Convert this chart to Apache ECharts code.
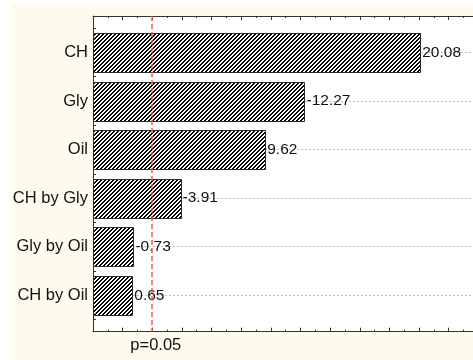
<!DOCTYPE html>
<html><head><meta charset="utf-8">
<script src="https://cdn.jsdelivr.net/npm/echarts@6/dist/echarts.min.js"></script>
<style>
html,body{margin:0;padding:0;background:#fff;width:473px;height:360px;overflow:hidden}
#chart{position:absolute;left:12px;top:4px;width:461px;height:356px}
</style>
</head><body><div id="chart"></div>
<script>
// Pareto chart of standardized effects
const terms = ['CH', 'Gly', 'Oil', 'CH by Gly', 'Gly by Oil', 'CH by Oil'];
const effects = [20.08, -12.27, 9.62, -3.91, -0.73, 0.65];
const pCritical = 1.97;
const pLabel = 'p=0.05';

const X_MIN = -2, X_MAX = 24;
const FONT = '"Liberation Sans", Arial, Helvetica, sans-serif';

// pixel diagonal hatch tile used as bar fill
function hatchTile() {
  const c = document.createElement('canvas');
  c.width = 4; c.height = 4;
  const g = c.getContext('2d');
  g.fillStyle = '#fff'; g.fillRect(0, 0, 4, 4);
  g.fillStyle = '#000';
  for (let y = 0; y < 4; y++) {
    for (let x = 0; x < 4; x++) {
      const m = (x + y) % 4;
      if (m === 0 || m === 1) g.fillRect(x, y, 1, 1);
    }
  }
  return c;
}
const tile = hatchTile();

const barData = effects.map((v, i) => [Math.abs(v), i, v]);
const catIdx = terms.map((t, i) => i);
const halfTicks = [];
for (let k = -0.5; k <= terms.length - 0.5; k += 0.5) halfTicks.push(k);

const xAxisBase = {
  type: 'value', min: X_MIN, max: X_MAX, interval: 2,
  axisLine: { show: true, onZero: false, lineStyle: { color: '#333', width: 1 } },
  axisTick: { show: true, inside: true, length: 4, lineStyle: { color: '#333' } },
  minorTick: { show: true, splitNumber: 2, length: 2, lineStyle: { color: '#333' } },
  splitLine: { show: false }
};

const chart = echarts.init(document.getElementById('chart'), null, { renderer: 'canvas' });
chart.setOption({
  backgroundColor: '#FFFAEE',
  animation: false,
  grid: {
    left: 81, top: 12, width: 26 * 14.82, height: 315.7,
    outerBoundsMode: 'none', containLabel: false,
    show: true, backgroundColor: '#fff', borderWidth: 0
  },
  xAxis: [
    Object.assign({}, xAxisBase, {
      position: 'bottom',
      axisLabel: {
        show: true, customValues: [pCritical], formatter: () => pLabel,
        color: '#111', fontFamily: FONT, fontSize: 16.5, margin: 5, padding: [0, 0, 0, 8]
      }
    }),
    Object.assign({}, xAxisBase, { position: 'top', axisLabel: { show: false } })
  ],
  yAxis: {
    type: 'value', inverse: true, min: -0.75, max: terms.length - 0.25,
    axisLine: { show: true, onZero: false, lineStyle: { color: '#333', width: 1 } },
    axisTick: { show: true, inside: true, length: 3, customValues: halfTicks, lineStyle: { color: '#333' } },
    axisLabel: {
      show: true, customValues: catIdx, formatter: v => terms[Math.round(v)] || '',
      color: '#111', fontFamily: FONT, fontSize: 16.5, margin: 5
    },
    splitLine: { show: false }
  },
  series: [
    {
      type: 'custom',
      z: 3,
      data: barData,
      encode: { x: 0, y: 1 },
      clip: false,
      renderItem(params, api) {
        const idx = api.value(1);
        const start = api.coord([X_MIN, idx]);
        const end = api.coord([api.value(0), idx]);
        const h = api.size([0, 0.8])[1];
        return {
          type: 'group',
          children: [
            {
              type: 'rect',
              shape: { x: Math.round(start[0]) + 0.5, y: Math.round(start[1] - h / 2) + 0.5,
                       width: Math.round(end[0] - start[0]), height: Math.round(h) },
              style: { fill: { image: tile, repeat: 'repeat' }, stroke: '#2a2a2a', lineWidth: 1 }
            },
            {
              type: 'text',
              x: end[0] + 2, y: end[1],
              style: {
                text: api.value(2).toFixed(2), fill: '#111',
                font: '15.5px ' + FONT, align: 'left', verticalAlign: 'middle'
              }
            }
          ]
        };
      },
      markLine: {
        silent: true, symbol: 'none', z: 1,
        label: { show: false },
        lineStyle: { color: '#bdbdbd', type: [2, 2], width: 1 },
        data: catIdx.map(i => ({ yAxis: i }))
      }
    },
    {
      type: 'line',
      data: [],
      z: 5,
      markLine: {
        silent: true, symbol: 'none', z: 6,
        label: { show: false },
        lineStyle: { color: '#EE5A5A', type: [5, 3], width: 1.5 },
        data: [{ xAxis: pCritical }]
      }
    }
  ]
});
</script>
</body></html>
